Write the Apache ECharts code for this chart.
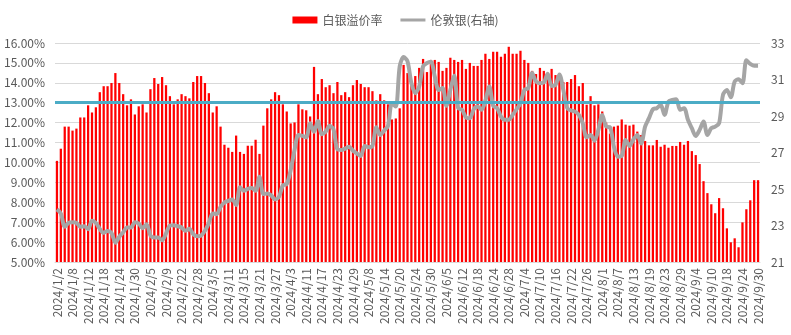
<!DOCTYPE html>
<html>
<head>
<meta charset="utf-8">
<script src="https://cdn.jsdelivr.net/npm/echarts@6/dist/echarts.min.js"></script>
<style>
  html, body { margin: 0; padding: 0; background: #fff; }
  #chart { width: 791px; height: 335px; }
</style>
</head>
<body>
<div id="chart"></div>
<script>
// Trading days, Jan–Sep 2024
const jan = [2,3,4,5,8,9,10,11,12,15,16,17,18,19,22,23,24,25,26,29,30,31];
const feb = [1,2,5,6,7,8,9,19,20,21,22,23,26,27,28,29];
const mar = [1,4,5,6,7,8,11,12,13,14,15,18,19,20,21,22,25,26,27,28];
const apr = [1,2,3,8,9,10,11,12,15,16,17,18,19,22,23,24,25,26,29,30];
const may = [6,7,8,9,10,13,14,15,16,17,20,21,22,23,24,27,28,29,30,31];
const jun = [3,4,5,6,7,11,12,13,14,17,18,19,20,21,24,25,26,27,28];
const jul = [1,2,3,4,5,8,9,10,11,12,15,16,17,18,19,22,23,24,25,26,29,30,31];
const aug = [1,2,5,6,7,8,9,12,13,14,15,16,19,20,21,22,23,26,27,28,29,30];
const sep = [2,3,4,5,6,9,10,11,12,13,18,19,20,23,24,25,26,27,30];

// 白银溢价率 (%)
const premium = [
  10.08,10.69,11.80,11.80,11.60,11.70,12.26,12.26,12.87,12.51,12.77,13.53,13.83,13.83,13.99,14.49,13.99,13.43,12.87,13.17,12.41,12.82,12.92,12.51,13.68,14.24,13.94,14.29,13.88,13.33,
  12.92,13.17,13.43,13.33,13.22,14.04,14.34,14.34,13.99,13.48,12.51,12.82,11.80,10.89,10.74,10.53,11.35,10.53,10.43,10.84,10.84,11.14,10.43,11.85,12.72,13.17,13.53,13.38,12.92,12.56,11.96,
  12.01,12.92,12.67,12.62,12.31,14.80,13.43,14.19,13.78,13.88,13.48,14.04,13.38,13.53,13.28,13.88,14.14,13.94,13.78,13.78,13.58,13.12,13.43,13.12,12.92,12.16,12.21,12.72,14.90,14.49,
  13.99,14.34,14.75,15.20,14.54,15.15,15.15,15.05,14.60,14.75,15.26,15.15,15.05,15.15,14.70,15.00,14.85,14.85,15.15,15.46,15.20,15.56,15.56,15.31,15.46,15.81,15.46,15.46,15.61,15.15,
  15.00,14.60,14.44,14.75,14.60,14.49,14.70,14.39,14.49,14.04,14.04,14.19,14.39,13.83,13.99,12.90,13.33,12.87,12.92,12.56,12.00,11.45,11.80,11.85,12.16,11.90,11.85,11.90,11.55,11.38,
  11.08,10.86,10.86,11.13,10.79,10.89,10.74,10.83,10.83,11.03,10.89,11.08,10.57,10.37,9.92,9.06,8.46,7.90,7.45,8.21,7.70,6.69,5.99,6.19,5.74,6.99,7.65,8.10,9.11,9.11
];

// 伦敦银 (USD/oz, right axis)
const london = [
  23.88,23.66,22.93,23.15,23.18,23.15,22.93,22.96,22.80,23.26,23.15,22.81,22.60,22.70,22.60,22.06,22.38,22.63,22.89,22.89,23.18,23.11,22.85,23.07,22.45,22.34,22.34,22.19,22.56,23.00,
  23.02,22.96,22.89,22.71,22.82,22.52,22.41,22.45,22.71,23.14,23.66,23.62,24.02,24.26,24.35,24.43,24.12,25.09,24.90,25.01,25.05,24.90,25.67,24.72,24.76,24.65,24.43,24.57,25.20,25.27,26.03,
  27.14,27.96,27.91,27.83,28.60,28.14,28.73,28.00,28.14,28.46,28.27,27.17,27.14,27.21,27.32,27.10,26.95,26.81,27.36,27.29,27.36,28.38,27.96,28.20,28.46,29.70,29.52,31.72,32.23,32.00,
  30.80,30.25,30.62,31.72,31.90,31.97,31.17,30.43,30.53,29.56,30.43,31.20,29.43,29.34,28.93,28.88,29.37,29.52,29.34,29.85,30.62,29.56,29.43,28.97,28.79,28.79,29.06,29.37,29.70,30.43,
  30.53,31.35,30.89,30.80,30.84,31.31,30.65,30.71,31.28,30.43,29.43,29.30,29.24,29.06,28.60,27.83,27.96,27.65,28.24,29.06,28.42,28.38,27.32,26.77,26.81,27.69,27.36,27.72,27.96,27.50,
  28.42,28.88,29.37,29.43,29.61,29.06,29.79,29.88,29.92,29.34,29.43,28.79,28.33,27.91,28.24,28.70,27.96,28.33,28.42,28.60,30.16,30.43,30.03,30.89,31.02,30.80,32.05,31.86,31.75,31.75
];

const refLevel = 13;

const months = [jan, feb, mar, apr, may, jun, jul, aug, sep];
const dates = [];
months.forEach((days, i) => days.forEach(d => dates.push('2024/' + (i + 1) + '/' + d)));

const font = '"Noto Sans CJK SC", "Noto Sans", sans-serif';
const chart = echarts.init(document.getElementById('chart'), null, { renderer: 'canvas' });

// legend glyph for the line: a thin bar centred in a 25x7 box
const lineIcon = 'path://M0,0M0,2H25V5H0ZM25,7';

chart.setOption({
  animation: false,
  textStyle: { fontFamily: font },
  legend: {
    top: 9,
    left: 'center',
    itemWidth: 25,
    itemHeight: 7,
    itemGap: 18,
    textStyle: { color: '#595959', fontSize: 12, fontFamily: font },
    data: [
      { name: '白银溢价率', icon: 'rect' },
      { name: '伦敦银(右轴)', icon: lineIcon }
    ]
  },
  grid: { left: 55, right: 31, top: 43, bottom: 73, containLabel: false },
  xAxis: {
    type: 'category',
    data: dates,
    boundaryGap: true,
    axisLine: { show: true, lineStyle: { color: '#D9D9D9', width: 1 } },
    axisTick: { show: false },
    axisLabel: {
      interval: 3,
      rotate: 90,
      margin: 6,
      color: '#595959',
      fontSize: 12,
      fontFamily: font
    }
  },
  yAxis: [
    {
      type: 'value',
      min: 5, max: 16, interval: 1,
      axisLine: { show: false },
      axisTick: { show: false },
      splitLine: { lineStyle: { color: '#D9D9D9', width: 1 } },
      axisLabel: {
        color: '#595959', fontSize: 12, margin: 10, fontFamily: font,
        formatter: v => v.toFixed(2) + '%'
      }
    },
    {
      type: 'value',
      min: 21, max: 33, interval: 2,
      position: 'right',
      axisLine: { show: false },
      axisTick: { show: false },
      splitLine: { show: false },
      axisLabel: { color: '#595959', fontSize: 12, margin: 11, fontFamily: font }
    }
  ],
  series: [
    {
      name: '白银溢价率',
      type: 'bar',
      yAxisIndex: 0,
      data: premium,
      barWidth: '58%',
      itemStyle: { color: '#FF0000' },
      z: 2
    },
    {
      name: 'ref',
      type: 'line',
      yAxisIndex: 0,
      data: [],
      silent: true,
      z: 3,
      markLine: {
        silent: true,
        symbol: ['none', 'none'],
        label: { show: false },
        lineStyle: { color: '#4BACC6', width: 3, type: 'solid' },
        data: [{ yAxis: refLevel }]
      }
    },
    {
      name: '伦敦银(右轴)',
      type: 'line',
      yAxisIndex: 1,
      data: london,
      symbol: 'none',
      smooth: 0.3,
      lineStyle: { color: '#A5A5A5', width: 4 },
      itemStyle: { color: '#A5A5A5' },
      z: 4
    }
  ]
});
</script>
</body>
</html>
